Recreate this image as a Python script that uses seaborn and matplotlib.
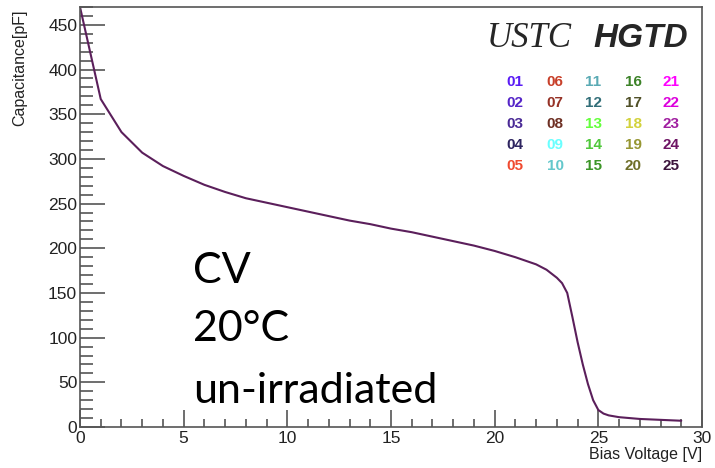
import numpy as np
import pandas as pd
import matplotlib
matplotlib.use("Agg")
import matplotlib.pyplot as plt
import seaborn as sns
from matplotlib.ticker import MultipleLocator

# ---- data ----
bias_voltage = [0, 1, 2, 3, 4, 5, 6, 7, 8, 9, 10, 11, 12, 13, 14, 15, 16, 17, 18, 19,
                20, 21, 22, 22.5, 23, 23.25, 23.5, 23.75, 24, 24.25, 24.5, 24.75, 25,
                25.25, 25.5, 26, 27, 28, 29]
capacitance = [470, 367, 330, 307, 292, 281, 271, 263, 256, 251, 246, 241, 236, 231, 227, 222,
               218, 213, 208, 203, 197, 190, 182, 176, 167, 161, 150, 123, 95, 70, 48, 30, 19,
               15, 13, 11, 9, 8, 7]

sensor_ids = ["01", "02", "03", "04", "05", "06", "07", "08", "09", "10",
              "11", "12", "13", "14", "15", "16", "17", "18", "19", "20",
              "21", "22", "23", "24", "25"]
sensor_colors = ["#5a1cf5", "#5525c8", "#4a2a96", "#2e2560", "#f04a30",
                 "#c8402a", "#963226", "#6e3024", "#6affff", "#64c8cc",
                 "#5aaab4", "#326e78", "#64ff3c", "#50c83c", "#3c9628",
                 "#3c8228", "#505028", "#d2d23c", "#969632", "#6e6e28",
                 "#ff00ff", "#dc00dc", "#a01ea0", "#6e1464", "#3c143c"]

annotations = ["CV", "20°C", "un-irradiated"]

df = pd.DataFrame({"V": bias_voltage, "C": capacitance})

sns.set_style("white")
plt.rcParams["font.family"] = ["Liberation Sans", "DejaVu Sans"]

fig = plt.figure(figsize=(7.15, 4.68), dpi=100)
ax = fig.add_axes([80/715, 41/468, 622/715, 420/468])

sns.lineplot(data=df, x="V", y="C", ax=ax, color="#5b1f5b", linewidth=1.5)

ax.set_xlim(0, 30)
ax.set_ylim(0, 470)
ax.xaxis.set_major_locator(MultipleLocator(5))
ax.xaxis.set_minor_locator(MultipleLocator(1))
ax.yaxis.set_major_locator(MultipleLocator(50))
ax.yaxis.set_minor_locator(MultipleLocator(10))

axis_col = "#555555"
for s in ax.spines.values():
    s.set_color(axis_col)
    s.set_linewidth(1.2)
ax.tick_params(axis="x", which="major", direction="in", length=12, width=1.2, color=axis_col,
               labelsize=12.5, pad=3, top=False, bottom=True, labelcolor="#222222")
ax.tick_params(axis="x", which="minor", direction="in", length=6, width=1.2, color=axis_col,
               top=False, bottom=True)
ax.tick_params(axis="y", which="major", direction="in", length=18, width=1.2, color=axis_col,
               labelsize=12.5, pad=2, left=True, right=False, labelcolor="#222222")
ax.tick_params(axis="y", which="minor", direction="in", length=9, width=1.2, color=axis_col,
               left=True, right=False)

ax.set_xlabel("")
ax.set_ylabel("")
fig.text(702/715, 1 - 455/468, "Bias Voltage [V]", ha="right", va="center", fontsize=11.5,
         color="#222222")
fig.text(20/715, 1 - 9/468, "Capacitance[pF]", ha="center", va="top", rotation=90,
         fontsize=11.5, color="#222222")

# USTC HGTD
fig.text(487/715, 1 - 47/468, "USTC", ha="left", va="baseline", fontsize=25,
         family=["Liberation Serif"], style="italic")
fig.text(593/715, 1 - 47/468, "HGTD", ha="left", va="baseline", fontsize=24,
         family=["Liberation Sans"], style="italic", weight="bold")

# sensor id grid
col_x = [515, 555, 593, 633, 671]
row_y = [82, 103, 124, 145, 166]
for i, (sid, col) in enumerate(zip(sensor_ids, sensor_colors)):
    c, r = divmod(i, 5)
    fig.text(col_x[c]/715, 1 - row_y[r]/468, sid, ha="center", va="center",
             fontsize=11, weight="bold", color=col)

# annotations
ann_y = [283, 341, 403]
for t, y in zip(annotations, ann_y):
    fig.text(193/715, 1 - y/468, t, ha="left", va="baseline", fontsize=31,
             family=["Lato", "DejaVu Sans"], color="black")

fig.savefig("out.png", dpi=100)
